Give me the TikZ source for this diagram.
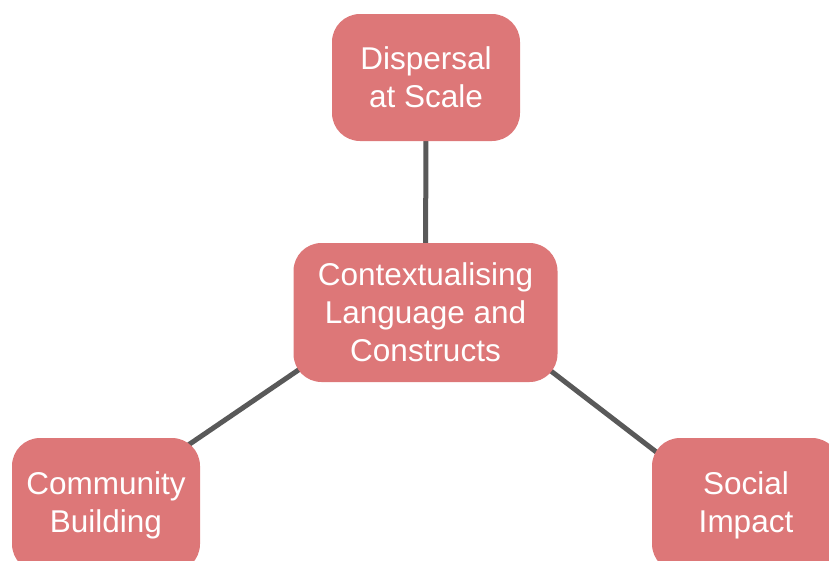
\documentclass[tikz,border=0pt]{standalone}
\usepackage{fontspec}
\setmainfont{Liberation Sans}
\usetikzlibrary{backgrounds}
\definecolor{boxred}{RGB}{221,119,120}
\definecolor{linkgrey}{RGB}{89,89,89}
\begin{document}
\begin{tikzpicture}[x=1pt,y=-1pt]
		\tikzstyle{topic} = [rectangle,rounded corners=28pt,fill=boxred,text=white,align=center,
			minimum width=188pt,minimum height=127pt,inner sep=0pt,font=\fontsize{31.5}{38}\selectfont]
		\tikzstyle{link} = [draw=linkgrey,line width=5pt]
		\clip (0,0) rectangle (829,560);
		\node[topic] (ds) at (426,77.5) {Dispersal\\at Scale};
		\node[topic,minimum width=264pt,minimum height=139pt] (ctr) at (425.5,312.5) {Contextualising\\Language and\\Constructs};
		\node[topic,minimum height=134pt] (cb) at (106,505) {Community\\Building};
		\node[topic,minimum height=134pt] (si) at (746,505) {Social\\Impact};
		\begin{scope}[on background layer]
			\draw[link] (ctr) -- (ds);
			\draw[link] ([yshift=29pt]ctr.center) -- ([yshift=4pt]cb.center);
			\draw[link] ([yshift=38pt]ctr.center) -- ([yshift=-16pt]si.center);
		\end{scope}
	\end{tikzpicture}
\end{document}
